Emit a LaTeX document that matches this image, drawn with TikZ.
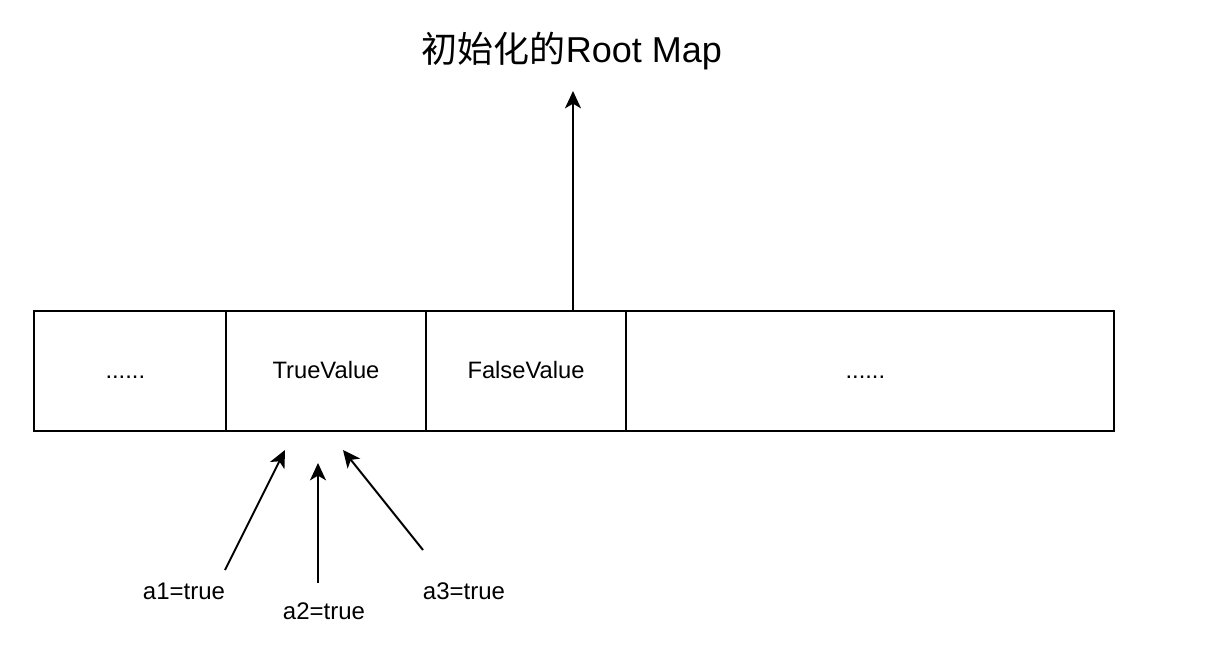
\documentclass[tikz,border=0pt]{standalone}
\usepackage{fontspec}
\setmainfont{Liberation Sans}
\newfontfamily\cjk{Noto Sans CJK SC}
\usetikzlibrary{arrows.meta}
\begin{document}
\begin{tikzpicture}[x=0.75pt,y=-0.75pt,
  cell/.style={draw=black,line width=1.5pt,minimum height=90pt,inner sep=0pt,anchor=north west,text height=1.1em,text depth=0pt,font=\fontsize{17.8}{20}\selectfont},
  conn/.style={line width=1.5pt,-{Stealth[length=13pt,width=12pt,inset=3.5pt]}},
  lbl/.style={font=\fontsize{18}{21}\selectfont,inner sep=0pt}]
\useasboundingbox (0,0) rectangle (1229,645);
\node[cell,minimum width=144pt] (c1) at (33,310) {......\hspace*{7pt}};
\node[cell,minimum width=150pt] (c2) at (225,310) {TrueValue};
\node[cell,minimum width=150pt] (c3) at (425,310) {FalseValue};
\node[cell,minimum width=366pt] (c4) at (625,310) {......\hspace*{7pt}};
\node[font=\fontsize{27}{31}\selectfont,inner sep=0pt] (title) at (572,51) {{\cjk 初始化的}Root Map};
\coordinate (ttip) at (573,91);
\coordinate (tstart) at (573,310);
\draw[conn] (tstart) -- (ttip);
\node[lbl] (a1) at (184,591) {a1=true};
\node[lbl] (a2) at (324,611) {a2=true};
\node[lbl] (a3) at (464,591) {a3=true};
\coordinate (h1) at (285,450);
\coordinate (h2) at (318,463);
\coordinate (h3) at (343,450);
\coordinate (s1) at (225,570);
\coordinate (s2) at (318,583);
\coordinate (s3) at (423,550);
\draw[conn] (s1) -- (h1);
\draw[conn] (s2) -- (h2);
\draw[conn] (s3) -- (h3);
\end{tikzpicture}
\end{document}
